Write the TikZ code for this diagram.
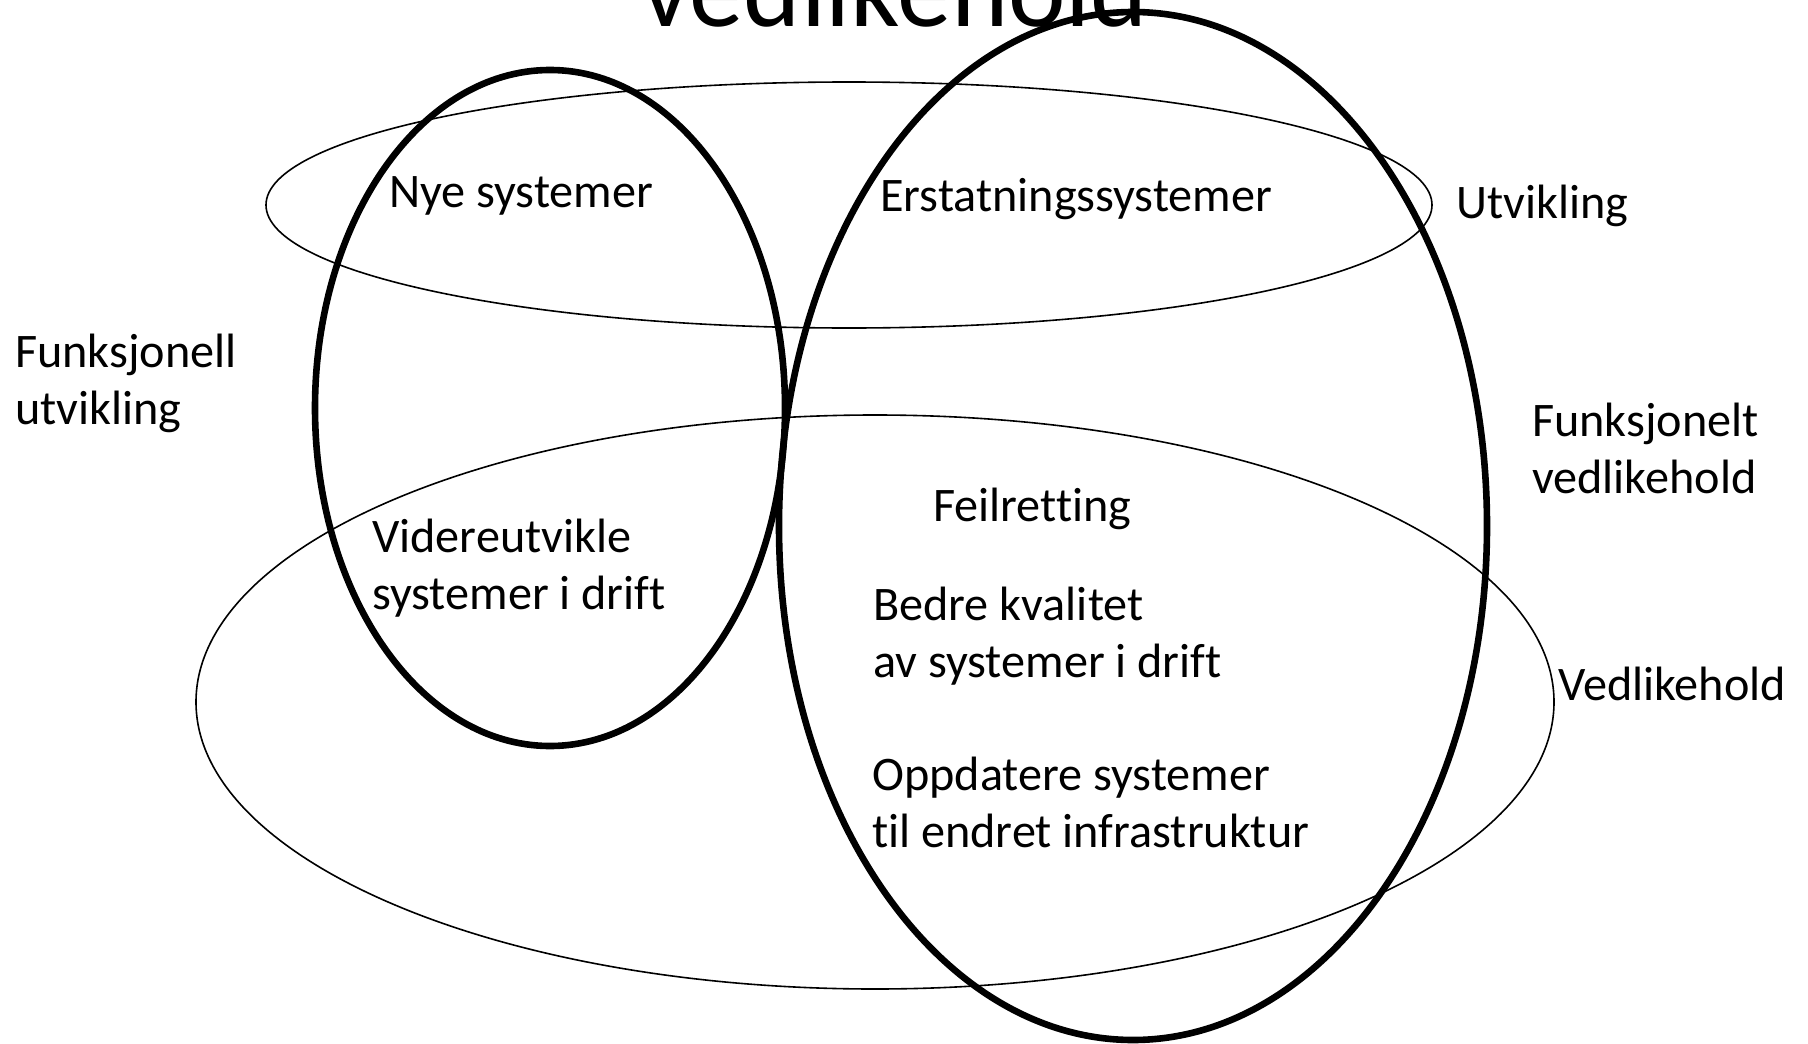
\documentclass[tikz,border=0pt]{standalone}
\usepackage{fontspec}
\setmainfont[Ligatures=NoCommon]{Carlito}
\newcommand{\twolines}[2]{\vtop{\baselineskip=57.7pt\hbox{#1}\hbox{#2}}}
\tikzset{
  thinell/.style={draw=black, line width=1.6pt},
  thickell/.style={draw=black, line width=6.6pt},
  lbl/.style={anchor=base west, inner sep=0pt, font=\fontsize{48.2}{57.7}\selectfont},
  ttl/.style={anchor=base west, inner sep=0pt, font=\fontsize{109}{120}\selectfont}
}
\begin{document}
\begin{tikzpicture}[x=1pt, y=-1pt]
\useasboundingbox (0,0) rectangle (1808,1044);
\clip (0,0) rectangle (1808,1044);
\fill[white] (0,0) rectangle (1808,1044);
% ellipse centres
\coordinate (cU) at (849,205);
\coordinate (cV) at (875,702);
\coordinate (cS) at (550,408);
\coordinate (cB) at (1133,526);
% thin ellipses
\draw[thinell] (cU) ellipse [x radius=583, y radius=123];
\draw[thinell] (cV) ellipse [x radius=679, y radius=287];
% thick ellipses
\draw[thickell] (cS) ellipse [x radius=235, y radius=338];
\draw[thickell] (cB) ellipse [x radius=354, y radius=514];
% title (cut off at top)
\node[ttl] (title) at (641,26) {vedlikehold};
% labels
\node[lbl] (nye) at (389,207) {Nye systemer};
\node[lbl] (erst) at (880,211) {Erstatningssystemer};
\node[lbl] (utv) at (1456,218) {Utvikling};
\node[lbl] (funku) at (15,367) {\twolines{Funksjonell}{utvikling}};
\node[lbl] (funkv) at (1532,436) {\twolines{Funksjonelt}{vedlikehold}};
\node[lbl] (vedl) at (1558,700) {Vedlikehold};
\node[lbl] (feil) at (933,521) {Feilretting};
\node[lbl] (vid) at (372,552) {\twolines{Videreutvikle}{systemer i drift}};
\node[lbl] (bedre) at (873,620) {\twolines{Bedre kvalitet}{av systemer i drift}};
\node[lbl] (oppd) at (872,790) {\twolines{Oppdatere systemer}{til endret infrastruktur}};
\end{tikzpicture}
\end{document}
